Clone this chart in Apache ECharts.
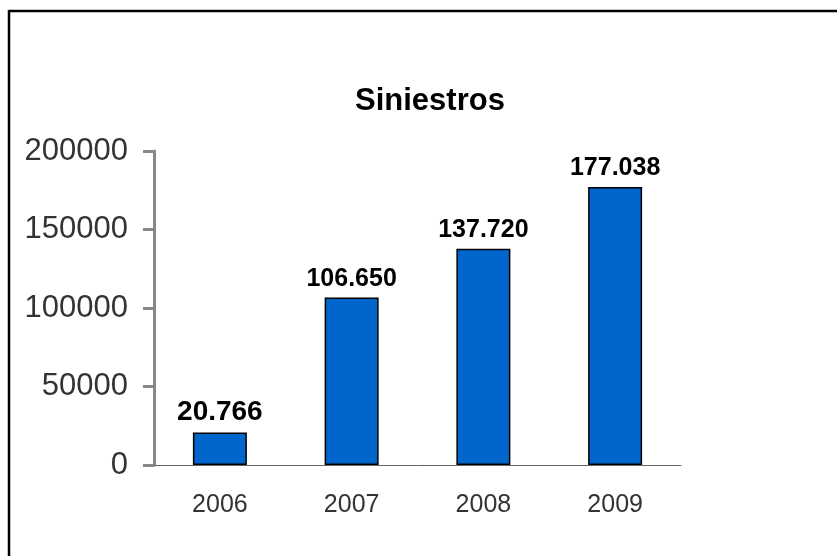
<!DOCTYPE html>
<html>
<head>
<meta charset="utf-8">
<script src="https://cdn.jsdelivr.net/npm/echarts@6/dist/echarts.min.js"></script>
<style>html,body{margin:0;padding:0;background:#fff}#c{width:837px;height:556px}</style>
</head>
<body>
<div id="c"></div>
<script>
var categories = ['2006', '2007', '2008', '2009'];
var values = [20766, 106650, 137720, 177038];
var valueLabels = ['20.766', '106.650', '137.720', '177.038'];
var titleText = 'Siniestros';

var chart = echarts.init(document.getElementById('c'));
var font = '"Liberation Sans", Arial, sans-serif';
chart.setOption({
  animation: false,
  backgroundColor: '#fff',
  title: {
    text: titleText, left: 350, top: 81,
    textStyle: {fontFamily: font, fontSize: 31, fontWeight: 'bold', color: '#000'}
  },
  graphic: [
    {type: 'line', shape: {x1: 9, y1: 11, x2: 837, y2: 11}, style: {stroke: '#000', lineWidth: 2.5}},
    {type: 'line', shape: {x1: 9, y1: 10, x2: 9, y2: 556}, style: {stroke: '#000', lineWidth: 2.5}}
  ],
  grid: {left: 154, right: 156, top: 151, bottom: 91},
  xAxis: {
    type: 'category', data: categories,
    axisLine: {lineStyle: {color: '#666', width: 1}},
    axisTick: {show: false},
    axisLabel: {fontFamily: font, fontSize: 25, color: '#333', margin: 28}
  },
  yAxis: {
    type: 'value', min: 0, max: 200000, interval: 50000,
    splitLine: {show: false},
    axisLine: {show: true, lineStyle: {color: '#888', width: 3}},
    axisTick: {show: true, length: 11, lineStyle: {color: '#888', width: 3}},
    axisLabel: {fontFamily: font, fontSize: 31, color: '#333', margin: 26,
      formatter: function (v) { return String(v); }}
  },
  series: [{
    type: 'bar', barWidth: 54,
    data: values.map(function (v, i) {
      return {
        value: v,
        label: {
          show: true, position: 'top', distance: 6,
          formatter: valueLabels[i],
          fontFamily: font, fontWeight: 'bold', color: '#000',
          fontSize: i === 0 ? 28 : 25
        }
      };
    }),
    itemStyle: {color: '#0066CC', borderColor: '#000', borderWidth: 1.5}
  }]
});
</script>
</body>
</html>
